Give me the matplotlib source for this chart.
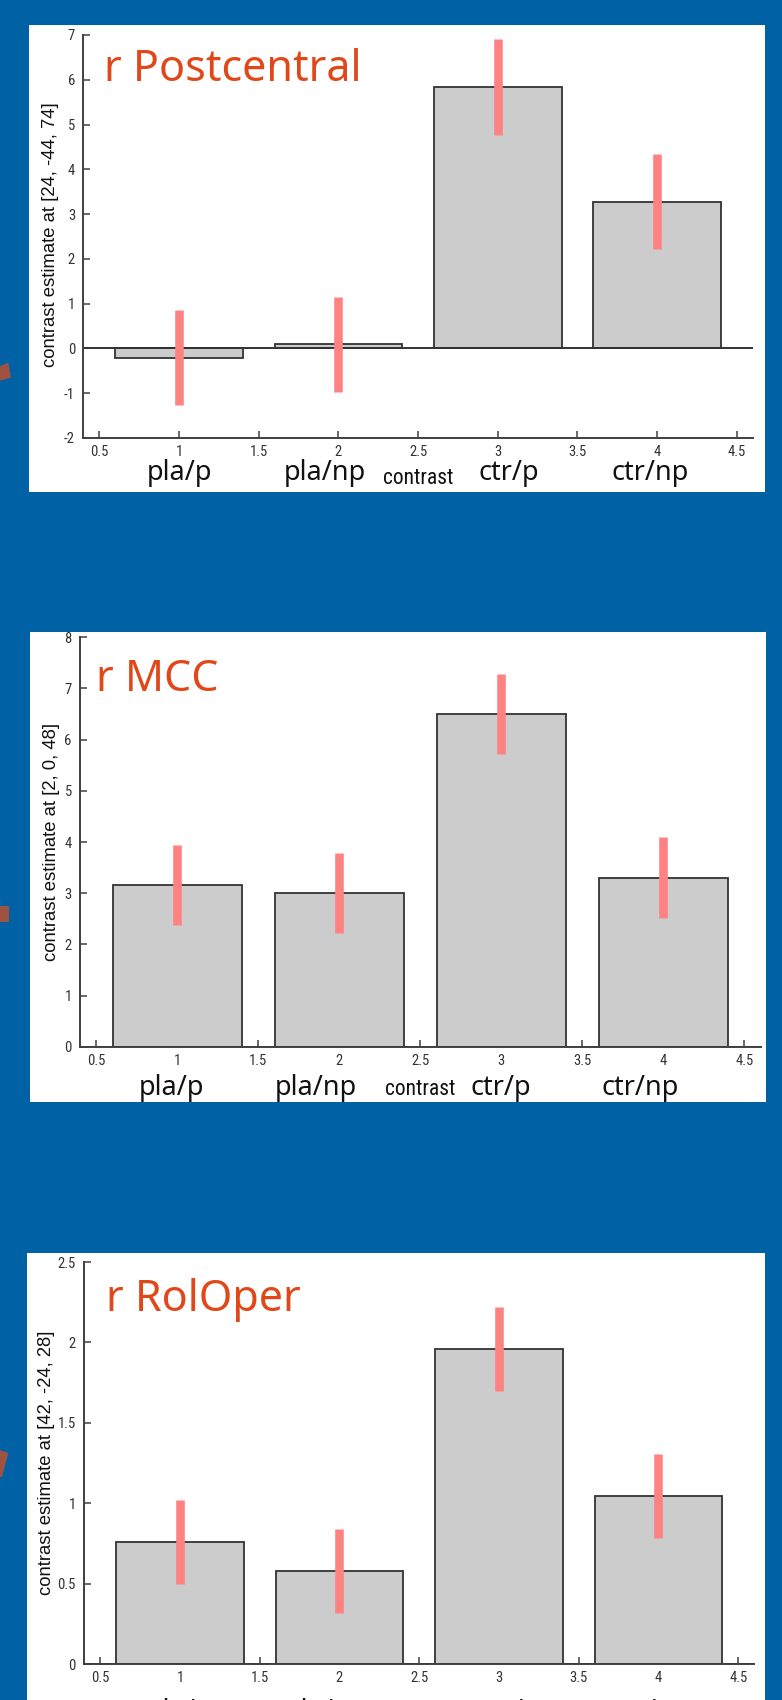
import matplotlib
matplotlib.use("Agg")
import matplotlib.pyplot as plt
from matplotlib import font_manager
from matplotlib.patches import Rectangle, Polygon
from matplotlib.transforms import blended_transform_factory

# ---------------- data ----------------
categories = ["pla/p", "pla/np", "ctr/p", "ctr/np"]
positions = [1, 2, 3, 4]
xtick_vals = [0.5, 1, 1.5, 2, 2.5, 3, 3.5, 4, 4.5]
xtick_labels = ["0.5", "1", "1.5", "2", "2.5", "3", "3.5", "4", "4.5"]

post_title = "r Postcentral"
post_ylabel = "contrast estimate at [24, -44, 74]"
post_values = [-0.21, 0.09, 5.83, 3.28]
post_errors = [1.06, 1.06, 1.07, 1.06]
post_yticks = [-2, -1, 0, 1, 2, 3, 4, 5, 6, 7]
post_yticklabels = ["-2", "-1", "0", "1", "2", "3", "4", "5", "6", "7"]

mcc_title = "r MCC"
mcc_ylabel = "contrast estimate at [2, 0, 48]"
mcc_values = [3.16, 3.00, 6.50, 3.30]
mcc_errors = [0.78, 0.78, 0.79, 0.79]
mcc_yticks = [0, 1, 2, 3, 4, 5, 6, 7, 8]
mcc_yticklabels = ["0", "1", "2", "3", "4", "5", "6", "7", "8"]

rol_title = "r RolOper"
rol_ylabel = "contrast estimate at [42, -24, 28]"
rol_values = [0.758, 0.578, 1.96, 1.044]
rol_errors = [0.262, 0.262, 0.262, 0.262]
rol_yticks = [0, 0.5, 1, 1.5, 2, 2.5]
rol_yticklabels = ["0", "0.5", "1", "1.5", "2", "2.5"]

xlabel_text = "contrast"

# ---------------- styling ----------------
W, H = 782, 1700
BLUE = "#0062A5"
BROWN = "#9E5242"
TITLE_COLOR = "#E0481A"
ERR_COLOR = "#FF8282"
BAR_COLOR = "#CCCCCC"
EDGE = "#333333"
AX_COLOR = "#404040"

avail = {f.name for f in font_manager.fontManager.ttflist}
def pick(*names):
    for n in names:
        if n in avail:
            return n
    return "DejaVu Sans"

NARROW = pick("Liberation Sans Narrow", "Roboto Condensed", "Open Sans Condensed", "Liberation Sans")
ARIAL = pick("Liberation Sans", "DejaVu Sans")
SANS = pick("Noto Sans", "Open Sans", "Lato")
narrow_scale = 1.0 if NARROW != "Liberation Sans" else 0.82

fig = plt.figure(figsize=(W / 100, H / 100), dpi=100)
fig.patch.set_facecolor(BLUE)

def fx(x):
    return x / W

def fy(y):
    return 1 - y / H

def box(x0, y0, x1, y1):
    return [fx(x0), fy(y1), (x1 - x0) / W, (y1 - y0) / H]

# brown decorations at left edge
for pts in ([(0, 366), (8.3, 362.7), (11, 377.7), (0, 380.7)],
            [(0, 906), (9, 906), (9, 922.3), (0, 922.3)],
            [(0, 1450), (8.3, 1453), (2, 1477), (0, 1477)]):
    fig.patches.append(Polygon([(fx(a), fy(b)) for a, b in pts], closed=True,
                               transform=fig.transFigure, facecolor=BROWN,
                               edgecolor="none", zorder=-2))

panels = [
    dict(values=post_values, errors=post_errors, yticks=post_yticks,
         yticklabels=post_yticklabels, ylim=(-2, 7), title=post_title,
         ylabel=post_ylabel,
         white=(29, 25, 765, 492), axes=(83.4, 35, 752.8, 438),
         title_xy=(104, 81), ylabel_xy=(51, 235),
         cat_x=[1.0, 1.916, 3.07, 3.955], contrast_x=2.5,
         cat_base=480, contrast_base=484),
    dict(values=mcc_values, errors=mcc_errors, yticks=mcc_yticks,
         yticklabels=mcc_yticklabels, ylim=(0, 8), title=mcc_title,
         ylabel=mcc_ylabel,
         white=(30, 632, 765.6, 1102), axes=(80.1, 637.3, 760.5, 1046.7),
         title_xy=(96, 690.7), ylabel_xy=(52, 841.5),
         cat_x=[0.965, 1.856, 3.0, 3.855], contrast_x=2.498,
         cat_base=1095, contrast_base=1095),
    dict(values=rol_values, errors=rol_errors, yticks=rol_yticks,
         yticklabels=rol_yticklabels, ylim=(0, 2.5), title=rol_title,
         ylabel=rol_ylabel,
         white=(27.4, 1252.7, 764.6, 1705), axes=(84.25, 1262, 754.2, 1664.3),
         title_xy=(106, 1311), ylabel_xy=(47, 1462.5),
         cat_x=[1.0, 1.916, 3.07, 3.955], contrast_x=2.5,
         cat_base=1719, contrast_base=1722),
]

for p in panels:
    x0, y0, x1, y1 = p["white"]
    fig.patches.append(Rectangle((fx(x0), fy(y1)), (x1 - x0) / W, (y1 - y0) / H,
                                 transform=fig.transFigure, facecolor="white",
                                 edgecolor="none", zorder=-1))
    ax = fig.add_axes(box(*p["axes"]))
    ax.set_zorder(1)
    ax.patch.set_alpha(0)
    ax.set_xlim(0.4, 4.6)
    ax.set_ylim(*p["ylim"])
    ax.bar(positions, p["values"], width=0.8, color=BAR_COLOR, edgecolor=EDGE,
           linewidth=1.3, zorder=2)
    lo = [v - e for v, e in zip(p["values"], p["errors"])]
    hi = [v + e for v, e in zip(p["values"], p["errors"])]
    ax.vlines(positions, lo, hi, color=ERR_COLOR, linewidth=6.2, zorder=3)
    ax.axhline(0, color=EDGE, linewidth=1.4, zorder=2.5)
    for s in ("top", "right"):
        ax.spines[s].set_visible(False)
    for s in ("left", "bottom"):
        ax.spines[s].set_color(AX_COLOR)
        ax.spines[s].set_linewidth(1.4)
    ax.set_xticks(xtick_vals)
    ax.set_xticklabels(xtick_labels)
    ax.set_yticks(p["yticks"])
    ax.set_yticklabels(p["yticklabels"])
    ax.tick_params(axis="both", direction="in", length=5, width=1.1,
                   color=AX_COLOR, labelcolor="#333333",
                   labelsize=10.5 * narrow_scale)
    ax.tick_params(axis="x", pad=5)
    ax.tick_params(axis="y", pad=6)
    for lab in ax.get_xticklabels() + ax.get_yticklabels():
        lab.set_fontfamily(NARROW)

    # title
    tx, ty = p["title_xy"]
    fig.text(fx(tx), fy(ty), p["title"], fontsize=31, color=TITLE_COLOR,
             family=SANS, ha="left", va="baseline", zorder=5)
    # ylabel
    lx, ly = p["ylabel_xy"]
    fig.text(fx(lx), fy(ly), p["ylabel"], fontsize=13.3, rotation=90,
             family=ARIAL, color="#111111", ha="center", va="center", zorder=5)
    # category labels
    tr = blended_transform_factory(ax.transData, fig.transFigure)
    for cx, cat in zip(p["cat_x"], categories):
        ax.text(cx, fy(p["cat_base"]), cat, transform=tr, fontsize=19.5,
                family=SANS, color="#111111", ha="center", va="baseline",
                clip_on=False)
    ax.text(p["contrast_x"], fy(p["contrast_base"]), xlabel_text, transform=tr,
            fontsize=15.5 * narrow_scale, family=NARROW, color="#111111",
            ha="center", va="baseline", clip_on=False)

fig.savefig("out.png", dpi=100, facecolor=BLUE)
